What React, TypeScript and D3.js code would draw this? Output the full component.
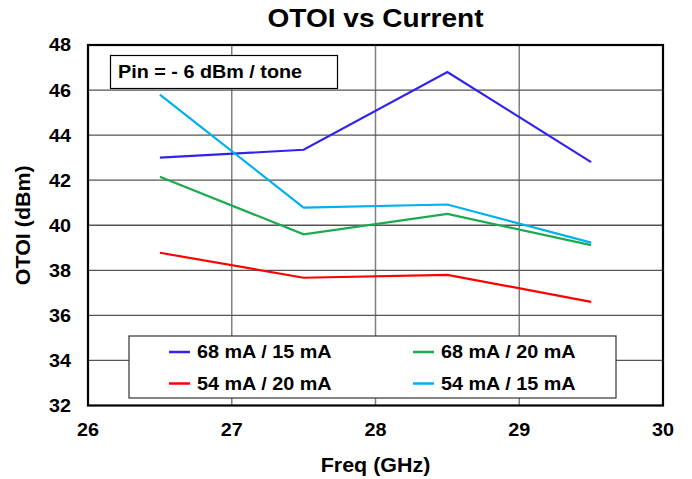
import React from "react";
import * as d3 from "d3";

const freqs = [26.5, 27.5, 28.5, 29.5];
const s68_15 = [43.0, 43.35, 46.8, 42.8];
const s68_20 = [42.15, 39.6, 40.5, 39.12];
const s54_20 = [38.78, 37.67, 37.8, 36.6];
const s54_15 = [45.8, 40.78, 40.92, 39.23];
const xTicks = [26, 27, 28, 29, 30];
const yTicks = [32, 34, 36, 38, 40, 42, 44, 46, 48];

const series = [
  { name: "68 mA / 15 mA", values: s68_15, color: "#3322ee" },
  { name: "68 mA / 20 mA", values: s68_20, color: "#1aab50" },
  { name: "54 mA / 20 mA", values: s54_20, color: "#ff0000" },
  { name: "54 mA / 15 mA", values: s54_15, color: "#00b0f0" },
];

const W = 692, H = 479;
const L = 88, R = 663, T = 45, B = 405.5;
const FONT = "'Liberation Sans', Arial, sans-serif";
const SX = 1.1;

function Txt(props: { x: number; y: number; size: number; anchor?: string; rotate?: number; dy?: string; children: React.ReactNode }) {
  const { x, y, size, anchor = "start", rotate = 0, dy, children } = props;
  return (
    <g transform={`translate(${x},${y}) rotate(${rotate}) scale(${SX},1)`}>
      <text x={0} y={0} dy={dy} textAnchor={anchor} fontSize={size} fontWeight="bold" fill="#000">{children}</text>
    </g>
  );
}

export default function App() {
  const x = d3.scaleLinear().domain([26, 30]).range([L, R]);
  const y = d3.scaleLinear().domain([32, 48]).range([B, T]);
  const line = d3.line<number>().x((_, i) => x(freqs[i])).y((d) => y(d));

  const legendPos = [
    { lx: 169, ly: 352 },
    { lx: 413, ly: 352 },
    { lx: 169, ly: 383.5 },
    { lx: 413, ly: 383.5 },
  ];

  return (
    <svg width={W} height={H} style={{ position: "absolute", left: 0, top: 0, background: "#fff" }} fontFamily={FONT}>
      <rect width={W} height={H} fill="#fff" />
      {xTicks.slice(1, -1).map((t) => (
        <line key={"gx" + t} x1={x(t)} x2={x(t)} y1={T} y2={B} stroke="#7f7f7f" strokeWidth={1.5} />
      ))}
      {yTicks.slice(1, -1).map((t) => (
        <line key={"gy" + t} x1={L} x2={R} y1={y(t)} y2={y(t)} stroke="#555" strokeWidth={1.3} />
      ))}
      {series.map((s) => (
        <path key={s.name} d={line(s.values) || ""} fill="none" stroke={s.color} strokeWidth={2.2} />
      ))}
      <rect x={L} y={T} width={R - L} height={B - T} fill="none" stroke="#000" strokeWidth={2.2} />
      {yTicks.map((t) => (
        <Txt key={"ty" + t} x={71} y={y(t)} dy="0.36em" anchor="end" size={18}>{t}</Txt>
      ))}
      {xTicks.map((t) => (
        <Txt key={"tx" + t} x={x(t)} y={436} anchor="middle" size={18}>{t}</Txt>
      ))}
      <Txt x={(L + R) / 2} y={472} anchor="middle" size={19.5}>Freq (GHz)</Txt>
      <Txt x={30} y={(T + B) / 2} rotate={-90} anchor="middle" size={19.5}>OTOI (dBm)</Txt>
      <Txt x={(L + R) / 2} y={27} anchor="middle" size={25.5}>OTOI vs Current</Txt>
      <rect x={110.5} y={55.5} width={227} height={33} fill="#fff" stroke="#000" strokeWidth={1.2} />
      <Txt x={118} y={78} size={18}>Pin = - 6 dBm / tone</Txt>
      <rect x={129} y={336} width={487} height={62} fill="#fff" stroke="#333" strokeWidth={1.2} />
      {series.map((s, i) => (
        <g key={"lg" + s.name}>
          <line x1={legendPos[i].lx} x2={legendPos[i].lx + 21} y1={legendPos[i].ly} y2={legendPos[i].ly} stroke={s.color} strokeWidth={2.5} />
          <Txt x={legendPos[i].lx + 28} y={legendPos[i].ly} dy="0.36em" size={18}>{s.name}</Txt>
        </g>
      ))}
    </svg>
  );
}
